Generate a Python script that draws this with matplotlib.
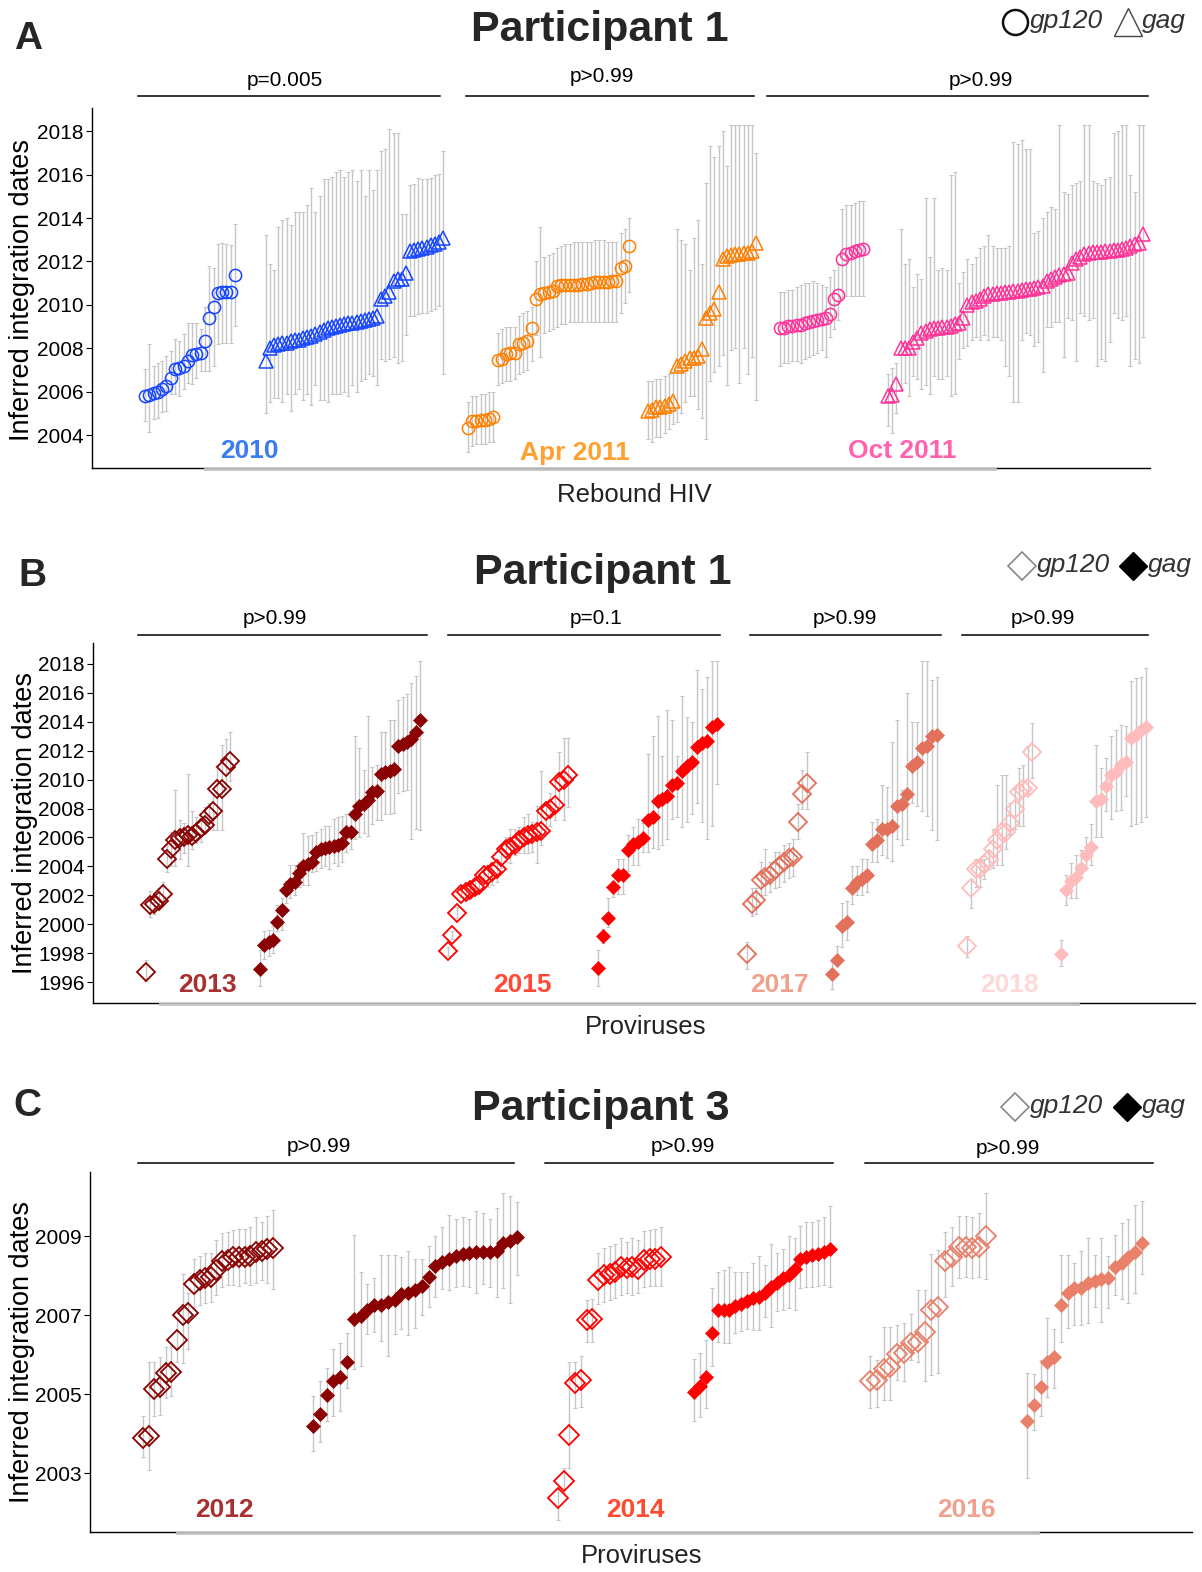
import numpy as np
import matplotlib
matplotlib.use('Agg')
import matplotlib.pyplot as plt
from matplotlib.lines import Line2D

plt.rcParams['font.family'] = ['Liberation Sans', 'DejaVu Sans']

# ---------------- DATA (inferred integration dates, lower / upper bounds) ----------------
# Panel A - Participant 1, rebound HIV
A_2010_gp_y = [2005.81, 2005.84, 2005.93, 2005.96, 2006.12, 2006.24, 2006.65, 2007.04, 2007.07, 2007.19, 2007.42,
               2007.68, 2007.73, 2007.80, 2008.34, 2009.37, 2009.92, 2010.56, 2010.60, 2010.60, 2010.60, 2011.36]
A_2010_gp_hi = [2007.04, 2008.19, 2007.19, 2007.34, 2007.42, 2007.65, 2007.88, 2008.42, 2008.34, 2008.65, 2009.18,
                2009.18, 2009.18, 2008.88, 2009.92, 2011.79, 2011.71, 2012.79, 2012.87, 2012.79, 2012.76, 2013.71]
A_2010_gp_lo = [2004.66, 2004.12, 2004.74, 2004.77, 2005.04, 2005.12, 2005.89, 2005.89, 2005.81, 2006.12, 2006.42,
                2006.35, 2006.61, 2006.96, 2006.96, 2006.96, 2007.19, 2008.19, 2008.26, 2008.26, 2008.26, 2009.03]

A_2010_gag_y = [2007.42, 2007.99, 2008.14, 2008.19, 2008.23, 2008.26, 2008.31, 2008.36, 2008.40, 2008.45, 2008.51,
                2008.57, 2008.65, 2008.75, 2008.83, 2008.91, 2008.97, 2009.02, 2009.06, 2009.11, 2009.15, 2009.18,
                2009.21, 2009.26, 2009.31, 2009.35, 2009.41, 2009.49, 2010.29, 2010.41, 2010.60, 2011.10, 2011.18,
                2011.21, 2011.48, 2012.48, 2012.53, 2012.56, 2012.62, 2012.68, 2012.74, 2012.80, 2012.90, 2013.10]
A_2010_gag_hi = [2013.2, 2011.9, 2011.6, 2013.6, 2013.9, 2014.0, 2013.7, 2014.3, 2014.3, 2014.3, 2014.6,
                 2015.4, 2014.3, 2015.0, 2015.8, 2015.8, 2015.9, 2016.1, 2016.2, 2015.9, 2016.1, 2016.2,
                 2015.7, 2016.2, 2015.0, 2016.2, 2015.3, 2016.2, 2017.1, 2017.2, 2018.1, 2017.9, 2017.9,
                 2014.2, 2014.2, 2015.5, 2015.55, 2015.86, 2015.78, 2015.8, 2015.86, 2016.0, 2016.05, 2017.08]
A_2010_gag_lo = [2005.0, 2005.5, 2005.7, 2005.7, 2005.5, 2005.9, 2005.1, 2005.9, 2006.1, 2005.6, 2005.9,
                 2005.4, 2006.3, 2005.6, 2005.6, 2005.5, 2005.9, 2005.9, 2005.9, 2006.0, 2005.8, 2006.3,
                 2006.0, 2006.5, 2006.6, 2006.8, 2006.7, 2006.3, 2007.5, 2007.4, 2007.5, 2007.6, 2007.3,
                 2007.4, 2008.6, 2009.5, 2009.5, 2009.57, 2009.64, 2009.64, 2009.72, 2009.83, 2009.95, 2006.81]

A_apr_gp_y = [2004.31, 2004.66, 2004.66, 2004.69, 2004.71, 2004.74, 2004.81, 2007.45, 2007.50, 2007.73, 2007.77,
              2007.80, 2008.19, 2008.26, 2008.34, 2008.95, 2010.29, 2010.49, 2010.56, 2010.60, 2010.64, 2010.87,
              2010.90, 2010.92, 2010.92, 2010.92, 2010.93, 2010.95, 2010.98, 2011.02, 2011.04, 2011.06, 2011.06,
              2011.07, 2011.10, 2011.10, 2011.71, 2011.79, 2012.71]
A_apr_gp_hi = [2005.5, 2005.8, 2005.8, 2005.9, 2005.9, 2006.0, 2006.0, 2008.7, 2008.9, 2009.0, 2009.0,
               2009.0, 2009.5, 2009.6, 2009.7, 2009.9, 2012.0, 2013.6, 2012.2, 2012.3, 2012.4, 2012.6,
               2012.7, 2012.8, 2012.8, 2012.9, 2012.9, 2012.9, 2012.9, 2012.9, 2013.0, 2013.0, 2013.0,
               2012.9, 2012.9, 2012.9, 2013.3, 2013.5, 2014.0]
A_apr_gp_lo = [2003.2, 2003.5, 2003.6, 2003.6, 2003.6, 2003.7, 2003.7, 2006.3, 2006.4, 2006.5, 2006.5,
               2006.6, 2006.8, 2006.9, 2007.0, 2007.4, 2008.6, 2007.6, 2008.7, 2008.8, 2008.9, 2009.0,
               2009.1, 2009.1, 2009.2, 2009.2, 2009.2, 2009.2, 2009.2, 2009.2, 2009.2, 2009.2, 2009.2,
               2009.2, 2009.2, 2009.2, 2009.6, 2010.1, 2010.6]

A_apr_gag_y = [2005.12, 2005.17, 2005.27, 2005.27, 2005.35, 2005.43, 2005.58, 2007.19, 2007.27, 2007.42, 2007.53,
               2007.57, 2007.65, 2007.96, 2009.41, 2009.64, 2009.80, 2010.60, 2012.13, 2012.25, 2012.28, 2012.33,
               2012.33, 2012.37, 2012.40, 2012.48, 2012.87]
A_apr_gag_hi = [2006.5, 2006.5, 2006.6, 2006.6, 2006.7, 2006.8, 2006.9, 2013.5, 2013.0, 2012.8, 2011.6,
                2013.1, 2013.9, 2011.9, 2015.6, 2017.3, 2016.8, 2017.3, 2018.0, 2016.4, 2018.3, 2018.3,
                2018.3, 2018.3, 2018.3, 2018.3, 2017.0]
A_apr_gag_lo = [2003.8, 2003.7, 2003.9, 2003.9, 2004.1, 2004.3, 2004.5, 2004.6, 2005.0, 2005.5, 2005.8,
                2005.8, 2005.2, 2004.8, 2003.8, 2006.5, 2006.9, 2007.2, 2007.7, 2006.3, 2007.9, 2008.0,
                2006.4, 2008.0, 2006.8, 2007.6, 2005.6]

A_oct_gp_y = [2008.91, 2008.95, 2009.03, 2009.03, 2009.06, 2009.09, 2009.15, 2009.21, 2009.26, 2009.31, 2009.34,
              2009.38, 2009.57, 2010.29, 2010.44, 2012.10, 2012.33, 2012.40, 2012.48, 2012.53, 2012.56]
A_oct_gp_hi = [2010.6, 2010.6, 2010.7, 2010.7, 2010.8, 2010.9, 2011.0, 2011.0, 2011.1, 2011.0, 2010.9,
               2010.8, 2011.3, 2011.6, 2011.9, 2014.4, 2014.6, 2014.6, 2014.7, 2014.8, 2014.8]
A_oct_gp_lo = [2007.2, 2007.3, 2007.3, 2007.4, 2007.4, 2007.3, 2007.5, 2007.6, 2007.7, 2007.8, 2007.9,
               2007.6, 2008.5, 2008.9, 2009.3, 2010.3, 2010.4, 2010.4, 2010.4, 2010.4, 2010.4]

A_oct_gag_y = [2005.81, 2005.84, 2006.35, 2007.99, 2008.03, 2008.03, 2008.29, 2008.45, 2008.72, 2008.80,
               2008.88, 2008.91, 2008.94, 2008.97, 2009.00, 2009.03, 2009.11, 2009.18, 2009.41, 2009.98,
               2010.13, 2010.18, 2010.29, 2010.41, 2010.49, 2010.52, 2010.56, 2010.56, 2010.60, 2010.61,
               2010.63, 2010.64, 2010.67, 2010.72, 2010.75, 2010.79, 2010.84, 2010.87, 2011.10, 2011.18,
               2011.30, 2011.36, 2011.41, 2011.48, 2011.94, 2012.13, 2012.22, 2012.33, 2012.40, 2012.44,
               2012.44, 2012.45, 2012.47, 2012.48, 2012.51, 2012.53, 2012.56, 2012.63, 2012.71, 2012.79,
               2012.83, 2013.25]
A_oct_gag_hi = [2006.8, 2007.1, 2007.3, 2013.5, 2011.9, 2012.1, 2010.8, 2011.4, 2011.2, 2014.9,
                2012.2, 2014.9, 2011.6, 2011.7, 2011.6, 2016.0, 2016.1, 2011.0, 2011.5, 2012.1,
                2011.9, 2012.2, 2012.6, 2012.7, 2013.2, 2012.7, 2012.6, 2012.6, 2012.6, 2012.7,
                2017.5, 2017.4, 2017.6, 2017.2, 2017.2, 2013.3, 2013.4, 2014.0, 2014.3, 2014.5,
                2014.4, 2018.3, 2015.2, 2015.1, 2015.5, 2015.6, 2015.7, 2018.3, 2018.3, 2015.7,
                2015.6, 2015.5, 2015.8, 2015.9, 2017.9, 2018.0, 2018.3, 2018.3, 2016.0, 2015.2,
                2018.3, 2018.3]
A_oct_gag_lo = [2004.4, 2004.1, 2005.0, 2006.1, 2006.4, 2005.8, 2006.7, 2006.6, 2006.1, 2006.3,
                2005.9, 2006.7, 2006.6, 2006.6, 2006.7, 2005.8, 2005.9, 2007.5, 2008.0, 2008.1,
                2008.4, 2008.5, 2008.4, 2008.6, 2008.4, 2008.5, 2008.5, 2008.4, 2007.2, 2006.7,
                2005.5, 2005.5, 2008.4, 2008.7, 2008.6, 2008.1, 2008.3, 2006.9, 2009.0, 2009.0,
                2009.2, 2009.2, 2007.6, 2009.4, 2009.3, 2007.4, 2009.6, 2009.5, 2009.3, 2009.4,
                2007.2, 2007.5, 2007.4, 2008.3, 2009.6, 2009.4, 2009.3, 2009.5, 2007.2, 2007.5,
                2007.3, 2008.5]

# Panel B - Participant 1, proviruses
B_2013_gp_y = [1996.69, 2001.30, 2001.41, 2001.60, 2002.11, 2004.53, 2005.17, 2005.85, 2005.95, 2006.02, 2006.14,
               2006.10, 2006.32, 2006.64, 2006.87, 2007.52, 2007.80, 2009.36, 2009.36, 2010.86, 2011.32]
B_2013_gp_hi = [1997.5, 2002.3, 2002.1, 2002.5, 2002.9, 2005.5, 2006.4, 2009.3, 2007.2, 2007.0, 2010.4,
                2007.8, 2007.4, 2007.3, 2008.1, 2008.4, 2009.1, 2011.0, 2012.4, 2012.8, 2013.3]
B_2013_gp_lo = [1996.1, 2000.5, 2000.7, 2001.1, 2001.4, 2003.6, 2004.0, 2004.0, 2004.5, 2004.9, 2004.0,
                2005.2, 2005.6, 2005.7, 2006.4, 2006.6, 2006.5, 2006.5, 2006.5, 2009.5, 2009.9]

B_2013_gag_y = [1996.92, 1998.53, 1998.76, 1998.88, 2000.15, 2000.95, 2002.34, 2002.80, 2002.91, 2003.56,
                2004.02, 2004.18, 2004.29, 2004.99, 2005.17, 2005.26, 2005.33, 2005.40, 2005.45, 2005.63,
                2006.37, 2006.37, 2007.64, 2008.21, 2008.33, 2008.56, 2009.13, 2009.18, 2010.40, 2010.52,
                2010.63, 2010.75, 2012.31, 2012.47, 2012.59, 2012.82, 2013.28, 2014.09]
B_2013_gag_hi = [1998.2, 1999.5, 1999.6, 1999.9, 2001.3, 2001.8, 2003.0, 2004.1, 2004.1, 2004.3,
                 2006.3, 2006.1, 2006.2, 2006.4, 2006.6, 2006.8, 2006.8, 2007.3, 2007.4, 2007.5,
                 2007.6, 2007.8, 2013.0, 2012.2, 2010.7, 2014.4, 2010.9, 2011.0, 2013.3, 2013.3,
                 2014.1, 2014.1, 2015.5, 2015.7, 2015.9, 2016.7, 2017.2, 2018.2]
B_2013_gag_lo = [1995.7, 1997.6, 1997.8, 1998.0, 1999.5, 1999.6, 2001.5, 2001.8, 2002.0, 2002.6,
                 2002.7, 2002.7, 2003.6, 2003.7, 2003.9, 2004.0, 2003.8, 2004.2, 2004.0, 2004.3,
                 2005.0, 2005.2, 2005.9, 2006.0, 2006.3, 2006.1, 2006.9, 2007.2, 2007.2, 2007.6,
                 2007.6, 2007.7, 2009.1, 2009.2, 2009.3, 2005.9, 2006.6, 2006.5]

B_2015_gp_y = [1998.12, 1999.27, 2000.79, 2002.11, 2002.22, 2002.34, 2002.57, 2002.73, 2003.37, 2003.42,
               2003.60, 2003.83, 2004.64, 2005.22, 2005.33, 2005.45, 2005.79, 2006.02, 2006.14, 2006.25,
               2006.37, 2006.48, 2007.80, 2007.98, 2008.26, 2009.82, 2009.94, 2010.29]
B_2015_gp_hi = [1998.4, 1999.5, 2001.2, 2002.6, 2002.9, 2003.0, 2003.1, 2003.3, 2004.0, 2004.1,
                2004.3, 2004.5, 2005.1, 2006.0, 2006.6, 2006.6, 2006.7, 2007.4, 2007.6, 2007.1,
                2008.2, 2010.6, 2008.4, 2009.1, 2009.9, 2011.9, 2012.9, 2012.9]
B_2015_gp_lo = [1997.8, 1999.0, 2000.4, 2001.9, 2001.8, 2001.9, 2002.0, 2002.2, 2002.5, 2002.6,
                2002.7, 2002.9, 2003.9, 2004.3, 2004.2, 2004.8, 2004.9, 2004.9, 2004.9, 2005.0,
                2004.2, 2005.5, 2006.6, 2006.8, 2007.2, 2008.1, 2007.2, 2008.1]

B_2015_gag_y = [1996.97, 1999.18, 2000.42, 2002.57, 2003.37, 2003.42, 2005.10, 2005.56, 2005.68, 2005.95,
                2007.18, 2007.41, 2008.49, 2008.67, 2008.90, 2009.64, 2009.78, 2010.63, 2010.93, 2011.21,
                2012.24, 2012.54, 2012.70, 2013.63, 2013.86]
B_2015_gag_hi = [1998.2, 1999.7, 2001.8, 2003.0, 2004.5, 2004.5, 2006.2, 2006.7, 2007.3, 2007.0,
                 2011.8, 2013.0, 2014.4, 2011.6, 2014.8, 2014.1, 2011.6, 2015.8, 2014.3, 2014.0,
                 2017.6, 2016.3, 2017.1, 2018.2, 2018.2]
B_2015_gag_lo = [1995.7, 1998.7, 1999.8, 2001.9, 2002.1, 2002.1, 2003.7, 2004.1, 2004.1, 2005.0,
                 2005.0, 2005.3, 2005.2, 2005.5, 2005.9, 2007.3, 2007.4, 2006.7, 2007.1, 2007.6,
                 2008.4, 2007.1, 2005.9, 2006.8, 2009.7]

B_2017_gp_y = [1997.96, 2001.41, 2001.65, 2003.03, 2003.26, 2003.37, 2003.72, 2004.02, 2004.29, 2004.57,
               2004.64, 2007.06, 2009.02, 2009.78]
B_2017_gp_hi = [1998.8, 2002.5, 2002.5, 2004.3, 2005.2, 2004.3, 2005.0, 2005.0, 2005.5, 2005.6,
                2005.9, 2008.3, 2010.7, 2011.9]
B_2017_gp_lo = [1996.9, 2000.6, 2000.7, 2002.0, 2002.0, 2002.2, 2002.5, 2002.6, 2002.9, 2003.2,
                2003.3, 2005.9, 2008.0, 2008.0]

B_2017_gag_y = [1996.58, 1997.50, 1999.87, 2000.15, 2002.50, 2002.91, 2003.14, 2003.37, 2005.56, 2005.79,
                2006.60, 2006.60, 2006.78, 2008.21, 2008.33, 2009.02, 2010.93, 2011.21, 2012.18, 2012.31,
                2013.05, 2013.10]
B_2017_gag_hi = [1997.4, 1998.5, 2001.5, 2001.6, 2004.0, 2004.0, 2004.5, 2004.5, 2007.1, 2007.3,
                 2009.6, 2009.5, 2012.6, 2014.1, 2009.3, 2016.0, 2014.0, 2014.0, 2018.2, 2018.2,
                 2016.9, 2017.1]
B_2017_gag_lo = [1995.5, 1997.2, 1998.4, 1998.9, 2001.4, 2002.0, 2002.0, 2002.2, 2004.3, 2004.3,
                 2004.8, 2004.6, 2004.4, 2005.9, 2005.5, 2005.9, 2008.4, 2008.2, 2007.8, 2007.5,
                 2006.5, 2005.8]

B_2018_gp_y = [1998.49, 2002.50, 2003.83, 2003.83, 2004.18, 2004.53, 2005.22, 2005.79, 2006.37, 2006.41,
               2007.01, 2007.98, 2009.13, 2009.36, 2009.41, 2011.90]
B_2018_gp_hi = [1999.2, 2003.1, 2004.5, 2004.5, 2004.5, 2005.1, 2006.6, 2009.6, 2010.3, 2010.3,
                2008.4, 2009.4, 2010.8, 2011.0, 2012.3, 2013.9]
B_2018_gp_lo = [1997.7, 2001.1, 2002.6, 2002.6, 2003.1, 2003.8, 2003.9, 2004.1, 2004.1, 2005.2,
                2006.2, 2006.6, 2006.8, 2006.8, 2009.0, 2010.1]

B_2018_gag_y = [1997.96, 2002.34, 2002.96, 2003.26, 2003.88, 2004.76, 2005.33, 2008.49, 2008.67, 2009.59,
                2010.29, 2010.52, 2010.98, 2011.25, 2012.87, 2013.10, 2013.40, 2013.63]
B_2018_gag_hi = [1998.9, 2003.4, 2004.2, 2004.8, 2005.1, 2006.0, 2006.9, 2012.4, 2010.8, 2011.5,
                 2013.0, 2013.4, 2013.8, 2013.7, 2016.8, 2017.0, 2017.1, 2017.7]
B_2018_gag_lo = [1997.1, 2001.3, 2001.8, 2001.8, 2003.6, 2003.9, 2004.1, 2006.0, 2006.0, 2007.8,
                 2007.3, 2007.8, 2007.9, 2008.9, 2006.8, 2006.9, 2007.1, 2007.4]

# Panel C - Participant 3, proviruses
C_2012_gp_y = [2003.88, 2003.93, 2005.12, 2005.19, 2005.53, 2005.57, 2006.37, 2007.00, 2007.06, 2007.79,
               2007.88, 2007.93, 2007.97, 2008.14, 2008.37, 2008.39, 2008.46, 2008.46, 2008.48, 2008.50,
               2008.60, 2008.63, 2008.66, 2008.69]
C_2012_gp_hi = [2004.45, 2005.8, 2005.8, 2005.95, 2006.18, 2006.22, 2006.9, 2008.05, 2007.55, 2008.41,
                2008.5, 2008.56, 2008.56, 2008.91, 2009.07, 2009.11, 2009.15, 2009.19, 2009.19, 2009.23,
                2009.47, 2009.36, 2009.5, 2009.67]
C_2012_gp_lo = [2003.42, 2003.08, 2004.45, 2004.47, 2004.90, 2004.94, 2005.8, 2005.78, 2006.13, 2007.21,
                2007.25, 2007.30, 2007.34, 2007.51, 2007.72, 2007.76, 2007.76, 2007.73, 2007.8, 2007.76,
                2007.80, 2007.89, 2007.8, 2007.65]

C_2012_gag_y = [2004.20, 2004.50, 2004.98, 2005.32, 2005.44, 2005.82, 2006.89, 2006.98, 2007.13, 2007.25,
                2007.25, 2007.34, 2007.38, 2007.53, 2007.57, 2007.63, 2007.73, 2007.97, 2008.24, 2008.35,
                2008.43, 2008.49, 2008.54, 2008.58, 2008.60, 2008.60, 2008.60, 2008.63, 2008.83, 2008.87,
                2008.98]
C_2012_gag_hi = [2004.94, 2005.34, 2005.65, 2006.13, 2006.30, 2006.54, 2009.02, 2008.10, 2007.79, 2007.95,
                 2008.53, 2008.53, 2008.52, 2008.46, 2008.63, 2008.41, 2008.41, 2008.75, 2009.00, 2009.23,
                 2009.53, 2009.42, 2009.49, 2009.44, 2009.64, 2009.57, 2009.44, 2009.70, 2010.09, 2010.01,
                 2009.87]
C_2012_gag_lo = [2003.57, 2003.80, 2004.31, 2004.45, 2004.58, 2005.15, 2005.63, 2005.71, 2006.52, 2006.58,
                 2006.35, 2005.97, 2006.52, 2006.64, 2006.50, 2006.66, 2007.00, 2007.21, 2007.45, 2007.65,
                 2007.63, 2007.70, 2007.73, 2007.72, 2007.57, 2007.79, 2007.72, 2007.45, 2007.68, 2007.31,
                 2008.01]

C_2014_gp_y = [2002.37, 2002.81, 2003.97, 2005.29, 2005.36, 2006.88, 2006.89, 2007.89, 2008.01, 2008.05,
               2008.10, 2008.21, 2008.18, 2008.22, 2008.16, 2008.39, 2008.41, 2008.43, 2008.48]
C_2014_gp_hi = [2002.6, 2003.13, 2005.82, 2005.82, 2005.97, 2007.38, 2007.40, 2008.56, 2008.69, 2008.75,
                2008.81, 2008.94, 2008.86, 2008.94, 2008.90, 2009.13, 2009.15, 2009.18, 2009.22]
C_2014_gp_lo = [2001.82, 2002.49, 2003.13, 2004.64, 2004.68, 2006.33, 2006.33, 2007.28, 2007.34, 2007.38,
                2007.42, 2007.51, 2007.55, 2007.51, 2007.55, 2007.72, 2007.73, 2007.73, 2007.73]

C_2014_gag_y = [2005.06, 2005.21, 2005.44, 2006.54, 2007.13, 2007.12, 2007.14, 2007.23, 2007.28, 2007.36,
                2007.42, 2007.45, 2007.57, 2007.72, 2007.82, 2007.93, 2008.01, 2008.16, 2008.43, 2008.48,
                2008.52, 2008.55, 2008.60, 2008.66]
C_2014_gag_hi = [2005.88, 2006.05, 2006.37, 2007.68, 2008.10, 2008.15, 2008.21, 2008.10, 2008.10, 2008.10,
                 2008.31, 2008.49, 2008.27, 2008.80, 2008.56, 2008.66, 2009.00, 2008.96, 2009.25, 2009.36,
                 2009.36, 2009.40, 2009.47, 2009.76]
C_2014_gag_lo = [2004.33, 2004.42, 2004.64, 2005.71, 2006.33, 2006.30, 2006.29, 2006.54, 2006.60, 2006.64,
                 2006.61, 2006.62, 2006.96, 2006.71, 2007.09, 2007.13, 2007.17, 2007.14, 2007.68, 2007.72,
                 2007.72, 2007.74, 2007.76, 2007.70]

C_2016_gp_y = [2005.34, 2005.36, 2005.63, 2005.68, 2006.02, 2006.05, 2006.29, 2006.33, 2006.58, 2007.14,
               2007.21, 2008.37, 2008.48, 2008.71, 2008.71, 2008.69, 2008.71, 2009.00]
C_2016_gp_hi = [2005.97, 2005.86, 2006.71, 2006.71, 2006.75, 2006.79, 2007.03, 2007.63, 2007.63, 2008.54,
                2008.64, 2009.11, 2009.23, 2009.50, 2009.50, 2009.49, 2009.57, 2010.08]
C_2016_gp_lo = [2004.64, 2004.68, 2004.85, 2004.84, 2005.36, 2005.34, 2005.86, 2005.82, 2005.34, 2005.49,
                2005.53, 2007.45, 2007.73, 2007.95, 2007.97, 2007.95, 2007.97, 2007.90]

C_2016_gag_y = [2004.31, 2004.73, 2005.17, 2005.82, 2005.95, 2007.25, 2007.55, 2007.68, 2007.68, 2007.82,
                2007.87, 2007.90, 2007.93, 2008.21, 2008.32, 2008.46, 2008.60, 2008.83]
C_2016_gag_hi = [2005.53, 2005.51, 2005.86, 2006.92, 2006.64, 2008.52, 2008.52, 2008.32, 2008.63, 2008.96,
                 2008.52, 2008.96, 2008.50, 2009.02, 2009.34, 2009.44, 2009.78, 2009.89]
C_2016_gag_lo = [2002.87, 2004.10, 2004.45, 2004.92, 2005.15, 2006.33, 2006.66, 2006.75, 2006.75, 2006.79,
                 2007.21, 2006.83, 2007.18, 2007.51, 2007.40, 2007.31, 2007.55, 2008.04]

A_yticks = list(range(2004, 2019, 2))
B_yticks = list(range(1996, 2019, 2))
C_yticks = [2003, 2005, 2007, 2009]

# ---------------- LAYOUT ----------------
W, H = 1202, 1572
fig = plt.figure(figsize=(W / 100, H / 100), dpi=100)


def fx(px):
    return px / W


def fy(py):
    return 1 - py / H


def make_axes(left, top, right, bottom, ylim, yticks):
    ax = fig.add_axes([fx(left), fy(bottom), fx(right) - fx(left), fy(top) - fy(bottom)])
    ax.set_xlim(left, right)
    ax.set_ylim(*ylim)
    ax.set_yticks(yticks)
    ax.set_xticks([])
    for s in ('top', 'right'):
        ax.spines[s].set_visible(False)
    for s in ('left', 'bottom'):
        ax.spines[s].set_linewidth(1.0)
        ax.spines[s].set_color('black')
    ax.tick_params(axis='y', direction='out', length=4, width=0.8, labelsize=15, pad=2, colors='black')
    return ax


GRAY = '#c6c6c6'


def draw(ax, x0, x1, y, lo, hi, marker, color, ms, filled, mew=1.0):
    y = np.asarray(y, float)
    lo = np.asarray(lo, float)
    hi = np.asarray(hi, float)
    x = np.linspace(x0, x1, len(y))
    ax.errorbar(x, y, yerr=[np.clip(y - lo, 0, None), np.clip(hi - y, 0, None)], fmt='none',
                ecolor=GRAY, elinewidth=1.0, capsize=1.6, capthick=0.8, zorder=1)
    ax.plot(x, y, ls='none', marker=marker, ms=ms, mfc=color if filled else 'none',
            mec=color, mew=mew, zorder=3)


def hline(x0, x1, y, color='black', lw=1.1):
    fig.add_artist(Line2D([fx(x0), fx(x1)], [fy(y), fy(y)], color=color, lw=lw,
                          transform=fig.transFigure))


def ptext(x, y, s):
    fig.text(fx(x), fy(y), s, ha='center', va='center', fontsize=15, color='black')


def fmark(x, y, marker, ms, mfc, mec, mew):
    fig.add_artist(Line2D([fx(x)], [fy(y)], marker=marker, ms=ms, mfc=mfc, mec=mec, mew=mew,
                          ls='none', transform=fig.transFigure))


def legend_text(x, y, s):
    fig.text(fx(x), fy(y), s, ha='left', va='center', fontsize=19, style='italic', color='#333333')


TITLE_KW = dict(ha='center', va='center', fontsize=31, fontweight='bold', color='#262626')
LETTER_KW = dict(ha='center', va='center', fontsize=28, fontweight='bold', color='#262626')
YLAB_KW = dict(ha='center', va='center', fontsize=19.5, rotation=90, color='black')
XLAB_KW = dict(ha='center', va='center', fontsize=18.5, color='#222222')
GL_KW = dict(ha='center', va='center', fontsize=19, fontweight='bold')

# ---------------- PANEL A ----------------
axA = make_axes(92, 108, 1150, 468, (2002.48, 2019.07), A_yticks)
cA1, cA2, cA3 = '#1746ff', '#ff8000', '#ff3399'
draw(axA, 145, 235, A_2010_gp_y, A_2010_gp_lo, A_2010_gp_hi, 'o', cA1, 8.8, False, 1.1)
draw(axA, 266, 443, A_2010_gag_y, A_2010_gag_lo, A_2010_gag_hi, '^', cA1, 10.5, False, 1.1)
draw(axA, 468, 629, A_apr_gp_y, A_apr_gp_lo, A_apr_gp_hi, 'o', cA2, 8.8, False, 1.1)
draw(axA, 648, 756, A_apr_gag_y, A_apr_gag_lo, A_apr_gag_hi, '^', cA2, 10.5, False, 1.1)
draw(axA, 780, 863, A_oct_gp_y, A_oct_gp_lo, A_oct_gp_hi, 'o', cA3, 8.8, False, 1.1)
draw(axA, 888, 1143, A_oct_gag_y, A_oct_gag_lo, A_oct_gag_hi, '^', cA3, 10.5, False, 1.1)
hline(205, 995, 468.5, color='#c4c4c4', lw=2.0)

fig.text(fx(28), fy(39), 'A', **LETTER_KW)
fig.text(fx(600), fy(30), 'Participant 1', **TITLE_KW)
fig.text(fx(22), fy(290), 'Inferred integration dates', **YLAB_KW)
fig.text(fx(634), fy(495), 'Rebound HIV', **XLAB_KW)
fmark(1015, 22, 'o', 18, 'none', '#111111', 1.8)
legend_text(1030, 21, 'gp120')
fmark(1128, 22, '^', 20, 'none', '#444444', 1.0)
legend_text(1142, 21, 'gag')
hline(138, 440, 96); ptext(285, 80, 'p=0.005')
hline(466, 754, 96); ptext(602, 76, 'p>0.99')
hline(767, 1148, 96); ptext(981, 80, 'p>0.99')
fig.text(fx(249), fy(451), '2010', color='#3a7cf2', **GL_KW)
fig.text(fx(575), fy(453), 'Apr 2011', color='#ffa030', **GL_KW)
fig.text(fx(902), fy(451), 'Oct 2011', color='#ff63ae', **GL_KW)

# ---------------- PANEL B ----------------
axB = make_axes(93, 643, 1195, 1003, (1994.55, 2019.45), B_yticks)
cB1, cB2, cB3, cB4 = '#8b0000', '#ff0000', '#e2705a', '#ffbcbc'
draw(axB, 146, 230, B_2013_gp_y, B_2013_gp_lo, B_2013_gp_hi, 'D', cB1, 8.8, False, 1.3)
draw(axB, 260, 420, B_2013_gag_y, B_2013_gag_lo, B_2013_gag_hi, 'D', cB1, 7.0, True, 0.5)
draw(axB, 448, 568, B_2015_gp_y, B_2015_gp_lo, B_2015_gp_hi, 'D', cB2, 8.8, False, 1.3)
draw(axB, 598, 717, B_2015_gag_y, B_2015_gag_lo, B_2015_gag_hi, 'D', cB2, 7.0, True, 0.5)
draw(axB, 747, 807, B_2017_gp_y, B_2017_gp_lo, B_2017_gp_hi, 'D', cB3, 8.8, False, 1.3)
draw(axB, 832, 937, B_2017_gag_y, B_2017_gag_lo, B_2017_gag_hi, 'D', cB3, 7.0, True, 0.5)
draw(axB, 967, 1032, B_2018_gp_y, B_2018_gp_lo, B_2018_gp_hi, 'D', cB4, 8.8, False, 1.3)
draw(axB, 1061, 1146, B_2018_gag_y, B_2018_gag_lo, B_2018_gag_hi, 'D', cB4, 7.0, True, 0.5)
hline(160, 1078, 1003.5, color='#c4c4c4', lw=2.0)

fig.text(fx(32), fy(576), 'B', **LETTER_KW)
fig.text(fx(603), fy(573), 'Participant 1', **TITLE_KW)
fig.text(fx(25), fy(823), 'Inferred integration dates', **YLAB_KW)
fig.text(fx(646), fy(1027), 'Proviruses', **XLAB_KW)
fmark(1022, 566, 'D', 14, 'none', '#888888', 1.2)
legend_text(1037, 565, 'gp120')
fmark(1133, 566, 'D', 14, 'black', 'black', 1.0)
legend_text(1148, 565, 'gag')
hline(138, 427, 635); ptext(275, 619, 'p>0.99')
hline(448, 720, 635); ptext(596, 619, 'p=0.1')
hline(750, 941, 635); ptext(845, 619, 'p>0.99')
hline(962, 1148, 635); ptext(1043, 619, 'p>0.99')
fig.text(fx(207), fy(985), '2013', color='#a83030', **GL_KW)
fig.text(fx(522), fy(985), '2015', color='#ff4a38', **GL_KW)
fig.text(fx(779), fy(985), '2017', color='#f0a08c', **GL_KW)
fig.text(fx(1009), fy(985), '2018', color='#ffd8d8', **GL_KW)

# ---------------- PANEL C ----------------
axC = make_axes(90, 1172, 1192, 1532, (2001.51, 2010.62), C_yticks)
cC1, cC2, cC3 = '#8b0000', '#ff0000', '#e8806a'
draw(axC, 143, 273, C_2012_gp_y, C_2012_gp_lo, C_2012_gp_hi, 'D', cC1, 10.2, False, 1.3)
draw(axC, 313, 517, C_2012_gag_y, C_2012_gag_lo, C_2012_gag_hi, 'D', cC1, 7.6, True, 0.5)
draw(axC, 558, 661, C_2014_gp_y, C_2014_gp_lo, C_2014_gp_hi, 'D', cC2, 10.2, False, 1.3)
draw(axC, 694, 830, C_2014_gag_y, C_2014_gag_lo, C_2014_gag_hi, 'D', cC2, 7.6, True, 0.5)
draw(axC, 870, 986, C_2016_gp_y, C_2016_gp_lo, C_2016_gp_hi, 'D', cC3, 10.2, False, 1.3)
draw(axC, 1027, 1142, C_2016_gag_y, C_2016_gag_lo, C_2016_gag_hi, 'D', cC3, 7.6, True, 0.5)
hline(177, 1038, 1532.5, color='#c4c4c4', lw=2.0)

fig.text(fx(27), fy(1106), 'C', **LETTER_KW)
fig.text(fx(601), fy(1109), 'Participant 3', **TITLE_KW)
fig.text(fx(22), fy(1352), 'Inferred integration dates', **YLAB_KW)
fig.text(fx(642), fy(1556), 'Proviruses', **XLAB_KW)
fmark(1015, 1107, 'D', 14, 'none', '#888888', 1.2)
legend_text(1030, 1106, 'gp120')
fmark(1127, 1107, 'D', 14, 'black', 'black', 1.0)
legend_text(1142, 1106, 'gag')
hline(138, 514, 1163); ptext(319, 1147, 'p>0.99')
hline(545, 833, 1163); ptext(683, 1147, 'p>0.99')
hline(865, 1153, 1163); ptext(1008, 1149, 'p>0.99')
fig.text(fx(224), fy(1510), '2012', color='#a83030', **GL_KW)
fig.text(fx(635), fy(1510), '2014', color='#ff4a30', **GL_KW)
fig.text(fx(966), fy(1510), '2016', color='#f0a08c', **GL_KW)

fig.savefig('out.png', dpi=100)
